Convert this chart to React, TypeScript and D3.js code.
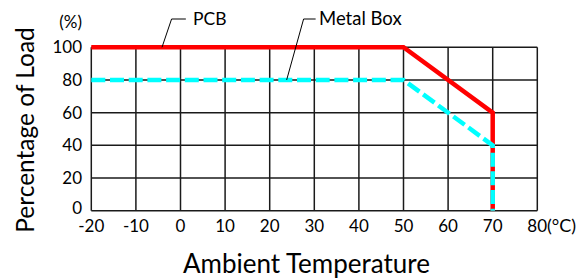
import React from "react";
import * as d3 from "d3";

const xTicks = [-20, -10, 0, 10, 20, 30, 40, 50, 60, 70, 80];
const yTicks = [0, 20, 40, 60, 80, 100];
const pcbTemp = [-20, 50, 70, 70];
const pcbLoad = [100, 100, 60, 0];
const boxTemp = [-20, 50, 70, 70];
const boxLoad = [80, 80, 40, 0];
const seriesNames = ["PCB", "Metal Box"];

export default function App() {
  const W = 586, H = 278;
  const x = d3.scaleLinear().domain([-20, 80]).range([91.3, 537.3]);
  const y = d3.scaleLinear().domain([0, 100]).range([210.7, 47.3]);
  const line = d3.line<[number, number]>().x(d => x(d[0])).y(d => y(d[1]));
  const pcb = pcbTemp.map((t, i) => [t, pcbLoad[i]] as [number, number]);
  const box = boxTemp.map((t, i) => [t, boxLoad[i]] as [number, number]);
  const font = "Lato, 'Open Sans', sans-serif";
  const grid = "#1a1a1a";
  const last = xTicks[xTicks.length - 1];
  return (
    <svg width={W} height={H} style={{ position: "absolute", left: 0, top: 0, background: "#fff" }}>
      {xTicks.map(t => (
        <line key={"vx" + t} x1={x(t)} x2={x(t)} y1={y(100)} y2={y(0)} stroke={grid} strokeWidth={1.5} />
      ))}
      {yTicks.map(t => (
        <line key={"hy" + t} x1={x(-20)} x2={x(80)} y1={y(t)} y2={y(t)} stroke={grid} strokeWidth={1.5} />
      ))}
      {xTicks.filter(t => t !== last).map(t => (
        <text key={"tx" + t} x={x(t)} y={231.5} textAnchor="middle" fontFamily={font} fontSize={17} fill="#000">
          {t}
        </text>
      ))}
      <text x={x(last) - 10} y={231.5} fontFamily={font} fontSize={17} fill="#000">
        {String(last)}
        <tspan fontSize={18}>(°C)</tspan>
      </text>
      {yTicks.map(t => (
        <text key={"ty" + t} x={82} y={y(t) + (t === 0 ? 3.5 : 6)} textAnchor="end" fontFamily={font} fontSize={17} fill="#000">
          {t}
        </text>
      ))}
      <text x={82} y={28} textAnchor="end" fontFamily={font} fontSize={17} fill="#000">(%)</text>
      <path d={line(pcb) || ""} fill="none" stroke="#ff0000" strokeWidth={4.5} strokeLinejoin="miter" />
      <path d={line(box) || ""} fill="none" stroke="#00ffff" strokeWidth={4.5} strokeDasharray="14 4.7" strokeLinejoin="miter" />
      <polyline points={`${x(-4.15)},${y(100)} ${x(-2)},19 ${x(1.2)},19`} fill="none" stroke="#000" strokeWidth={1} />
      <text x={193} y={25} fontFamily={font} fontSize={17.5} fill="#000">{seriesNames[0]}</text>
      <polyline points={`${x(23.8)},${y(80)} ${x(27.6)},19 ${x(30.3)},19`} fill="none" stroke="#000" strokeWidth={1} />
      <text x={319} y={25} fontFamily={font} fontSize={18.5} fill="#000">{seriesNames[1]}</text>
      <text x={306.5} y={273} textAnchor="middle" fontFamily={font} fontSize={26} fill="#000">Ambient Temperature</text>
      <text transform="translate(34,130) rotate(-90)" textAnchor="middle" fontFamily={font} fontSize={24.5} fill="#000">Percentage of Load</text>
    </svg>
  );
}
